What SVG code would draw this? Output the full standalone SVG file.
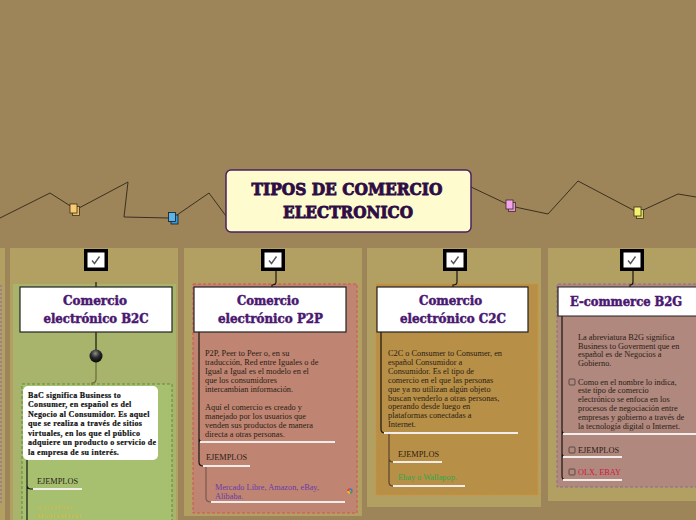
<svg xmlns="http://www.w3.org/2000/svg" width="696" height="520" viewBox="0 0 696 520">
<defs>
<radialGradient id="ball" cx="0.45" cy="0.3" r="0.75">
<stop offset="0" stop-color="#8c8c8c"/>
<stop offset="0.45" stop-color="#2a2a2a"/>
<stop offset="1" stop-color="#000"/>
</radialGradient>
<g id="chk">
<rect x="-12" y="-11" width="24" height="22" fill="#000"/>
<rect x="-8.5" y="-7.5" width="17" height="15" fill="#fff"/>
<path d="M-4,0.5 L-1.5,3.5 L3.5,-3.5" fill="none" stroke="#555" stroke-width="1.4"/>
</g>
<rect id="cb" x="0" y="0" width="6" height="6" rx="1" fill="none" stroke="#5a4a44" stroke-width="1"/>
</defs>
<style>
.bd{font-family:"Liberation Serif",serif;font-size:8.3px;fill:#2a1c14}
.bw{font-family:"Liberation Serif",serif;font-size:8px;font-weight:bold;letter-spacing:0.3px;fill:#111;stroke:#111;stroke-width:0.2px}
.hd{font-family:"DejaVu Serif",serif;font-weight:bold;font-size:13px;fill:#4a1870;stroke:#4a1870;stroke-width:0.5px;text-anchor:middle}
.tt{font-family:"DejaVu Serif",serif;font-weight:bold;font-size:17px;fill:#2e0c44;stroke:#2e0c44;stroke-width:0.9px;text-anchor:middle}
.ul{stroke:#f2ecea;stroke-width:2}
.ln{fill:none;stroke:#1a1410;stroke-width:1.2}
.zz{fill:none;stroke:#3a3020;stroke-width:1}
.hbox{fill:#fff;stroke:#222;stroke-width:1.2}
.col{fill:#b1a062}
</style>
<rect width="696" height="520" fill="#9e8459"/>
<!-- columns -->
<rect class="col" x="0" y="248" width="5" height="272"/>
<line x1="1" y1="285" x2="1" y2="505" stroke="#9a6aa8" stroke-width="1.2" stroke-dasharray="2,2"/>
<rect class="col" x="10" y="248" width="168" height="272"/>
<rect class="col" x="184" y="248" width="178" height="268"/>
<rect class="col" x="367" y="248" width="174" height="259"/>
<rect class="col" x="548" y="248" width="148" height="253"/>
<rect x="13" y="284" width="163" height="236" fill="#a8b46c"/>
<rect x="22" y="384" width="150" height="140" fill="#a6c070" stroke="#5e8a3a" stroke-width="1" stroke-dasharray="3,2"/>
<rect x="193" y="284" width="164" height="229" fill="#bf8572" stroke="#d85050" stroke-width="1" stroke-dasharray="3,2"/>
<rect x="376" y="284" width="162" height="211" fill="#b88f47" stroke="#d89030" stroke-width="1" stroke-dasharray="3,2"/>
<rect x="557" y="284" width="139" height="203" fill="#b0887e"/>
<path d="M696,284 H557 V487 H696" fill="none" stroke="#8a6a98" stroke-width="1" stroke-dasharray="3,2"/>

<g id="connectors">
<polyline class="zz" points="0,218 50,193 72,207"/>
<polyline class="zz" points="79,208 128,182 124,217 169,218"/>
<polyline class="zz" points="177,215 209,193 226,216"/>
<polyline class="zz" points="471,187 507,204"/>
<polyline class="zz" points="515,207 548,214 578,181 635,211"/>
<polyline class="zz" points="641,211 678,194 696,197"/>
<path class="ln" d="M96,282 V287"/>
<path class="ln" d="M276,271 V282 Q276,285 272,285 V287"/>
<path class="ln" d="M457,271 V282 Q457,285 453,285 V287"/>
<path class="ln" d="M633,271 V282 Q633,285 630,285 V287"/>
<path class="ln" d="M96,332 V350"/>
<path d="M96,362 V379 Q96,383 92,383 V385" fill="none" stroke="#6a6a3a" stroke-width="1.2"/>
<path class="ln" d="M27,460 V520 M27,485 Q27,489 31,489 H33"/>
<path class="ln" d="M199,332 V462 Q199,466 203,466 M199,438 Q199,442 203,442"/>
<path d="M206,466 V498 Q206,502 211,502" fill="none" stroke="#7a5a50" stroke-width="1.2"/>
<path class="ln" d="M381,332 V429 Q381,433 385,433"/>
<path d="M389,433 V482 Q389,486 393,486 M389,458 Q389,462 393,462" fill="none" stroke="#5a4530" stroke-width="1.2"/>
<path class="ln" d="M562,316 V476 Q562,480 566,480 M562,430 Q562,434 566,434 M562,453 Q562,457 566,457"/>
</g>

<!-- icons on zigzag -->
<g id="icons">
<rect x="72.5" y="206.5" width="7" height="9" fill="#e8b860" stroke="#3a3020" stroke-width="0.8"/>
<rect x="70" y="204" width="7" height="9" fill="#f8cc70" stroke="#3a3020" stroke-width="0.8"/>
<rect x="171" y="215" width="7" height="9" fill="#3a98d8" stroke="#1a1a1a" stroke-width="0.8"/>
<rect x="168.5" y="212.5" width="7" height="9" fill="#5ab6ea" stroke="#1a1a1a" stroke-width="0.8"/>
<rect x="508.5" y="202.5" width="7" height="9" fill="#e890dc" stroke="#3a3020" stroke-width="0.8"/>
<rect x="506" y="200" width="7" height="9" fill="#f6a4ec" stroke="#3a3020" stroke-width="0.8"/>
<rect x="636.5" y="209.5" width="7" height="9" fill="#d8d850" stroke="#3a3020" stroke-width="0.8"/>
<rect x="634" y="207" width="7" height="9" fill="#f2f270" stroke="#3a3020" stroke-width="0.8"/>
</g>

<g id="title">
<rect x="226" y="170" width="245" height="62" rx="5" fill="#fefccf" stroke="#4a2060" stroke-width="1.5"/>
<text class="tt" x="347" y="195" textLength="191" lengthAdjust="spacingAndGlyphs">TIPOS DE COMERCIO</text>
<text class="tt" x="348" y="218" textLength="130" lengthAdjust="spacingAndGlyphs">ELECTRONICO</text>
</g>

<g id="b2c">
<use href="#chk" x="96" y="260"/>
<rect class="hbox" x="20" y="287" width="152" height="45"/>
<text class="hd" x="95" y="305" textLength="64" lengthAdjust="spacingAndGlyphs">Comercio</text>
<text class="hd" x="96" y="323" textLength="105" lengthAdjust="spacingAndGlyphs">electrónico B2C</text>
<circle cx="96" cy="356" r="6.5" fill="url(#ball)"/>
<rect x="23" y="386" width="135" height="74" rx="5" fill="#fff"/>
<text class="bw" x="28" y="397.5">BaC significa Business to</text>
<text class="bw" x="28" y="407">Consumer, en español es del</text>
<text class="bw" x="28" y="416.5">Negocio al Consumidor. Es aquel</text>
<text class="bw" x="28" y="426">que se realiza a través de sitios</text>
<text class="bw" x="28" y="435.5">virtuales, en los que el público</text>
<text class="bw" x="28" y="445">adquiere un producto o servicio de</text>
<text class="bw" x="28" y="454.5">la empresa de su interés.</text>
<text class="bd" x="37" y="484">EJEMPLOS</text>
<line class="ul" x1="33" y1="489" x2="82" y2="489"/>
<text class="bd" x="37" y="509" style="fill:#d8b840;font-size:7px;letter-spacing:1px">Carrefour</text>
<text class="bd" x="37" y="517.5" style="fill:#d8b840;font-size:7px;letter-spacing:1px">MediaMarkt</text>
</g>

<g id="p2p">
<use href="#chk" x="273" y="260"/>
<rect class="hbox" x="194" y="287" width="152" height="45"/>
<text class="hd" x="268" y="305" textLength="62" lengthAdjust="spacingAndGlyphs">Comercio</text>
<text class="hd" x="270.5" y="323" textLength="105" lengthAdjust="spacingAndGlyphs">electrónico P2P</text>
<text class="bd" x="205" y="356">P2P, Peer to Peer o, en su</text>
<text class="bd" x="205" y="365">traducción, Red entre Iguales o de</text>
<text class="bd" x="205" y="374">Igual a Igual es el modelo en el</text>
<text class="bd" x="205" y="383">que los consumidores</text>
<text class="bd" x="205" y="392">intercambian información.</text>
<text class="bd" x="205" y="409.5">Aquí el comercio es creado y</text>
<text class="bd" x="205" y="418.5">manejado por los usuarios que</text>
<text class="bd" x="205" y="427.5">venden sus productos de manera</text>
<text class="bd" x="205" y="436.5">directa a otras personas.</text>
<line class="ul" x1="200" y1="442" x2="335" y2="442"/>
<text class="bd" x="206" y="460">EJEMPLOS</text>
<line class="ul" x1="203" y1="466" x2="250" y2="466"/>
<text class="bd" x="215" y="490" style="fill:#6a3aa8">Mercado Libre, Amazon, eBay,</text>
<text class="bd" x="215" y="499" style="fill:#6a3aa8">Alibaba.</text>
<line class="ul" x1="211" y1="502" x2="345" y2="502"/>
<g fill="none" stroke-width="1.4">
<path d="M348,491 A2,2 0 0 1 350,489" stroke="#e04030"/>
<path d="M350,489 A2,2 0 0 1 352,491" stroke="#3a78e0"/>
<path d="M352,491 A2,2 0 0 1 350,493" stroke="#30a050"/>
<path d="M350,493 A2,2 0 0 1 348,491" stroke="#f0c020"/>
</g>
</g>

<g id="c2c">
<use href="#chk" x="455" y="260"/>
<rect class="hbox" x="377" y="287" width="151" height="45"/>
<text class="hd" x="450.5" y="305" textLength="63" lengthAdjust="spacingAndGlyphs">Comercio</text>
<text class="hd" x="453" y="323" textLength="106" lengthAdjust="spacingAndGlyphs">electrónico C2C</text>
<text class="bd" x="388" y="356">C2C o Consumer to Consumer, en</text>
<text class="bd" x="388" y="364.9">español Consumidor a</text>
<text class="bd" x="388" y="373.8">Consumidor. Es el tipo de</text>
<text class="bd" x="388" y="382.7">comercio en el que las personas</text>
<text class="bd" x="388" y="391.6">que ya no utilizan algún objeto</text>
<text class="bd" x="388" y="400.5">buscan venderlo a otras personas,</text>
<text class="bd" x="388" y="409.4">operando desde luego en</text>
<text class="bd" x="388" y="418.3">plataformas conectadas a</text>
<text class="bd" x="388" y="427.2">Internet.</text>
<line class="ul" x1="384" y1="433" x2="518" y2="433"/>
<text class="bd" x="398" y="457">EJEMPLOS</text>
<line class="ul" x1="393" y1="462" x2="442" y2="462"/>
<text class="bd" x="398" y="480" style="fill:#30a848">Ebay o Wallapop.</text>
<line class="ul" x1="393" y1="486" x2="465" y2="486"/>
</g>

<g id="b2g">
<use href="#chk" x="632" y="260"/>
<rect x="558" y="287" width="138" height="29" fill="#fff"/>
<path d="M696,287 H558 V316 H696" fill="none" stroke="#222" stroke-width="1.2"/>
<text class="hd" x="626" y="306" style="font-size:12px" textLength="112" lengthAdjust="spacingAndGlyphs">E-commerce B2G</text>
<text class="bd" x="578" y="340">La abreviatura B2G significa</text>
<text class="bd" x="578" y="348.7">Business to Goverment que en</text>
<text class="bd" x="578" y="357.4">español es de Negocios a</text>
<text class="bd" x="578" y="366.1">Gobierno.</text>
<use href="#cb" x="569" y="379"/>
<text class="bd" x="578" y="384.5">Como en el nombre lo indica,</text>
<text class="bd" x="578" y="393.4">este tipo de comercio</text>
<text class="bd" x="578" y="402.3">electrónico se enfoca en los</text>
<text class="bd" x="578" y="411.2">procesos de negociación entre</text>
<text class="bd" x="578" y="420.1">empresas y gobierno a través de</text>
<text class="bd" x="578" y="429">la tecnología digital o Internet.</text>
<line class="ul" x1="563" y1="434" x2="696" y2="434"/>
<use href="#cb" x="569" y="447"/>
<text class="bd" x="578" y="452.5">EJEMPLOS</text>
<line class="ul" x1="563" y1="457" x2="622" y2="457"/>
<use href="#cb" x="569" y="469"/>
<text class="bd" x="578" y="474.5" style="fill:#d01840">OLX, EBAY</text>
<line class="ul" x1="563" y1="480" x2="622" y2="480"/>
</g>
</svg>
